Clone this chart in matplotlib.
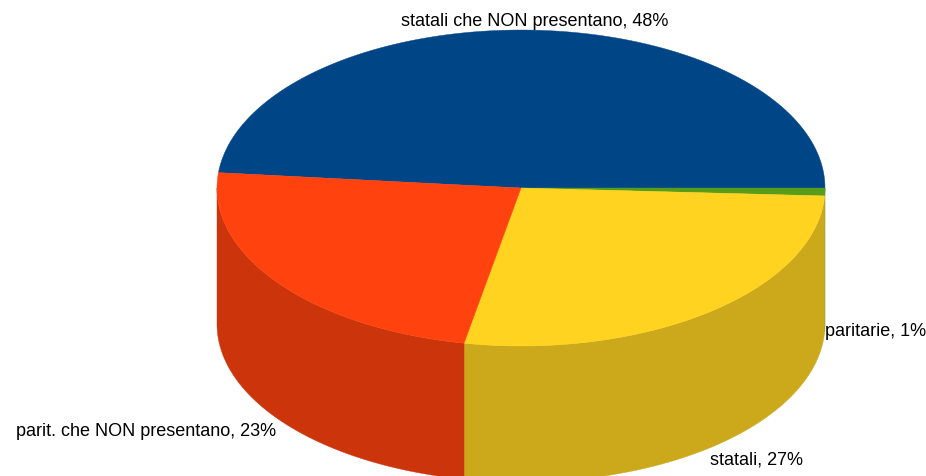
import numpy as np
import matplotlib
matplotlib.use('Agg')
import matplotlib.pyplot as plt

etichette = ['statali che NON presentano, 48%', 'paritarie, 1%', 'statali, 27%', 'parit. che NON presentano, 23%']
valori = [48.45, 0.8, 27.2, 23.55]
colori_top = ['#004586', '#579d1c', '#ffd320', '#ff420e']
colori_lato = ['#003a70', '#46801a', '#cca91a', '#cc350b']

plt.rcParams['font.family'] = ['Liberation Sans', 'DejaVu Sans']

fig = plt.figure(figsize=(9.26, 4.76), dpi=100)
ax = fig.add_axes([0, 0, 1, 1])
ax.set_xlim(0, 926)
ax.set_ylim(476, 0)
ax.axis('off')

cx, cy = 521, 188
rx, ry = 304, 158
alto = 136


def arco(a, b):
    t = np.radians(np.linspace(a, b, 200))
    return cx + rx * np.cos(t), cy - ry * np.sin(t)


# il blu va in senso antiorario da est, gli altri in senso orario
fette = [(0, valori[0] * 3.6)]
inizio = 0
for v in valori[1:]:
    fette.append((inizio, inizio - v * 3.6))
    inizio -= v * 3.6

# lati: solo la parte visibile, sotto il centro
for (a, b), col in zip(fette[1:], colori_lato[1:]):
    x, y = arco(a, max(b, -180))
    xs = np.concatenate([x, x[::-1]])
    ys = np.concatenate([y, y[::-1] + alto])
    ax.fill(xs, ys, color=col, lw=0.3, ec=col, zorder=2)

# facce superiori
for (a, b), col in zip(fette, colori_top):
    x, y = arco(a, b)
    ax.fill(np.r_[cx, x], np.r_[cy, y], color=col, lw=0.3, ec=col, zorder=3)

ax.text(535, 22, etichette[0], fontsize=13, ha='center', va='center')
ax.text(876, 331, etichette[1], fontsize=13, ha='center', va='center')
ax.text(756, 460, etichette[2], fontsize=13, ha='center', va='center')
ax.text(146, 431, etichette[3], fontsize=13, ha='center', va='center')

fig.savefig('out.png', dpi=100, facecolor='white')
